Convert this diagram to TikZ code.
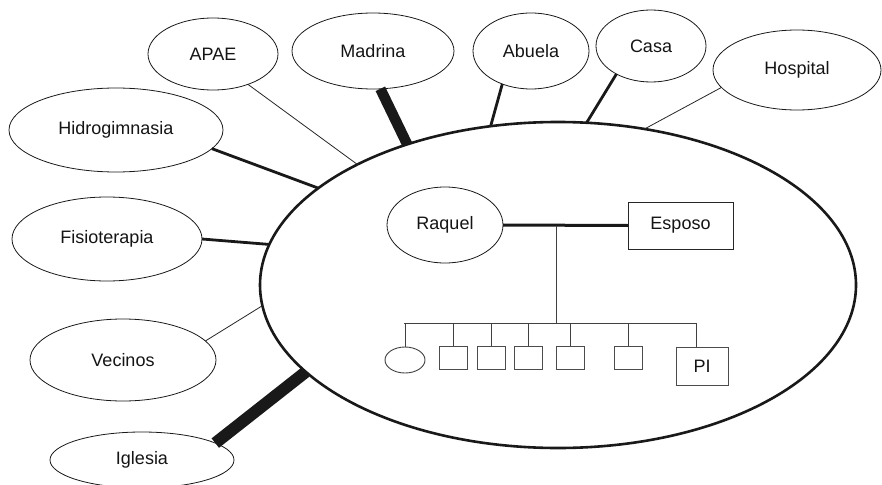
\documentclass[tikz,border=0pt]{standalone}
\usepackage{fontspec}
\setmainfont{Liberation Sans}
\usetikzlibrary{shapes.geometric}
\begin{document}
\begin{tikzpicture}[x=1pt,y=-1pt,
  lbl/.style={font=\fontsize{18}{20}\selectfont, text=black!92},
  sat/.style={ellipse, draw=black!90, line width=0.8pt, inner sep=0pt, outer sep=0pt, lbl},
  bigell/.style={ellipse, draw=black!90, line width=2.6pt, inner sep=0pt, outer sep=0pt, minimum width=596pt, minimum height=326pt},
  box/.style={rectangle, draw=black!70, line width=0.9pt, inner sep=0pt, outer sep=0pt, lbl},
  weak/.style={draw=black!85, line width=0.8pt},
  mid/.style={draw=black!90, line width=2.8pt},
  strong/.style={draw=black!90, line width=10.5pt},
  vstrong/.style={draw=black!90, line width=12pt},
  kin/.style={draw=black!75, line width=1pt},
  wed/.style={draw=black!90, line width=3pt}
]
\useasboundingbox (0,0) rectangle (882,484);

% family ellipse
\node[bigell] (fam) at (558,285) {};

% satellites
\node[sat, minimum width=130pt, minimum height=72pt] (apae) at (213,54) {APAE};
\node[sat, minimum width=162pt, minimum height=76pt] (madrina) at (373,51) {Madrina};
\node[sat, minimum width=116pt, minimum height=76pt] (abuela) at (531,51) {Abuela};
\node[sat, minimum width=110pt, minimum height=72pt] (casa) at (651,46) {Casa};
\node[sat, minimum width=168pt, minimum height=80pt] (hospital) at (797,70) {Hospital};
\node[sat, minimum width=214pt, minimum height=84pt] (hidro) at (116,130) {Hidrogimnasia};
\node[sat, minimum width=190pt, minimum height=84pt] (fisio) at (107,239) {Fisioterapia};
\node[sat, minimum width=186pt, minimum height=82pt] (vecinos) at (123,360) {Vecinos};
\node[sat, minimum width=184pt, minimum height=56pt] (iglesia) at (142,460) {Iglesia};

% connectors
\draw[weak] (apae.-41.4) -- (fam.149.9);
\draw[strong] (madrina.-79.8) -- (fam.137.8);
\draw[mid] (hidro.-11.1) -- (fam.158.0);
\draw[mid] (fisio.-0.5) -- (fam.172.5);
\draw[weak] (vecinos.13.4) -- (fam.184.1);
\draw[vstrong] (iglesia.13) -- (fam.199.0);
\draw[mid] (abuela.229.4) -- (fam.113.4);
\draw[mid] (casa.219.6) -- (fam.80.8);
\draw[weak] (hospital.193.7) -- (fam.61.4);

% inner family
\node[sat, minimum width=116pt, minimum height=76pt] (raquel) at (445,225) {Raquel};
\node[box, draw=black!85, minimum width=105pt, minimum height=47pt] (esposo) at (680.5,225.5) {Esposo};
\draw[wed] (raquel.east) -- (esposo.west);

\coordinate (desc) at (556,225.5);
\coordinate (sibL) at (404,323);
\coordinate (sibR) at (696,323);
\draw[kin] (desc) -- (desc |- sibL);
\draw[kin] (sibL) -- (sibR);

\node[ellipse, draw=black!75, line width=0.9pt, inner sep=0pt, outer sep=0pt, minimum width=40pt, minimum height=26pt] (c1) at (405,360) {};
\node[box, minimum width=28pt, minimum height=23pt] (c2) at (453,357.5) {};
\node[box, minimum width=28pt, minimum height=23pt] (c3) at (491,357.5) {};
\node[box, minimum width=28pt, minimum height=23pt] (c4) at (528,357.5) {};
\node[box, minimum width=28pt, minimum height=23pt] (c5) at (570.5,357.5) {};
\node[box, minimum width=28pt, minimum height=23pt] (c6) at (628,357.5) {};
\node[box, minimum width=52pt, minimum height=38pt] (pi) at (702,366) {PI};

\foreach \c in {c1,c2,c3,c4,c5,c6}
  \draw[kin] (\c.north) -- (\c.north |- sibL);
\draw[kin] (sibR) -- (sibR |- pi.north);
\end{tikzpicture}
\end{document}
